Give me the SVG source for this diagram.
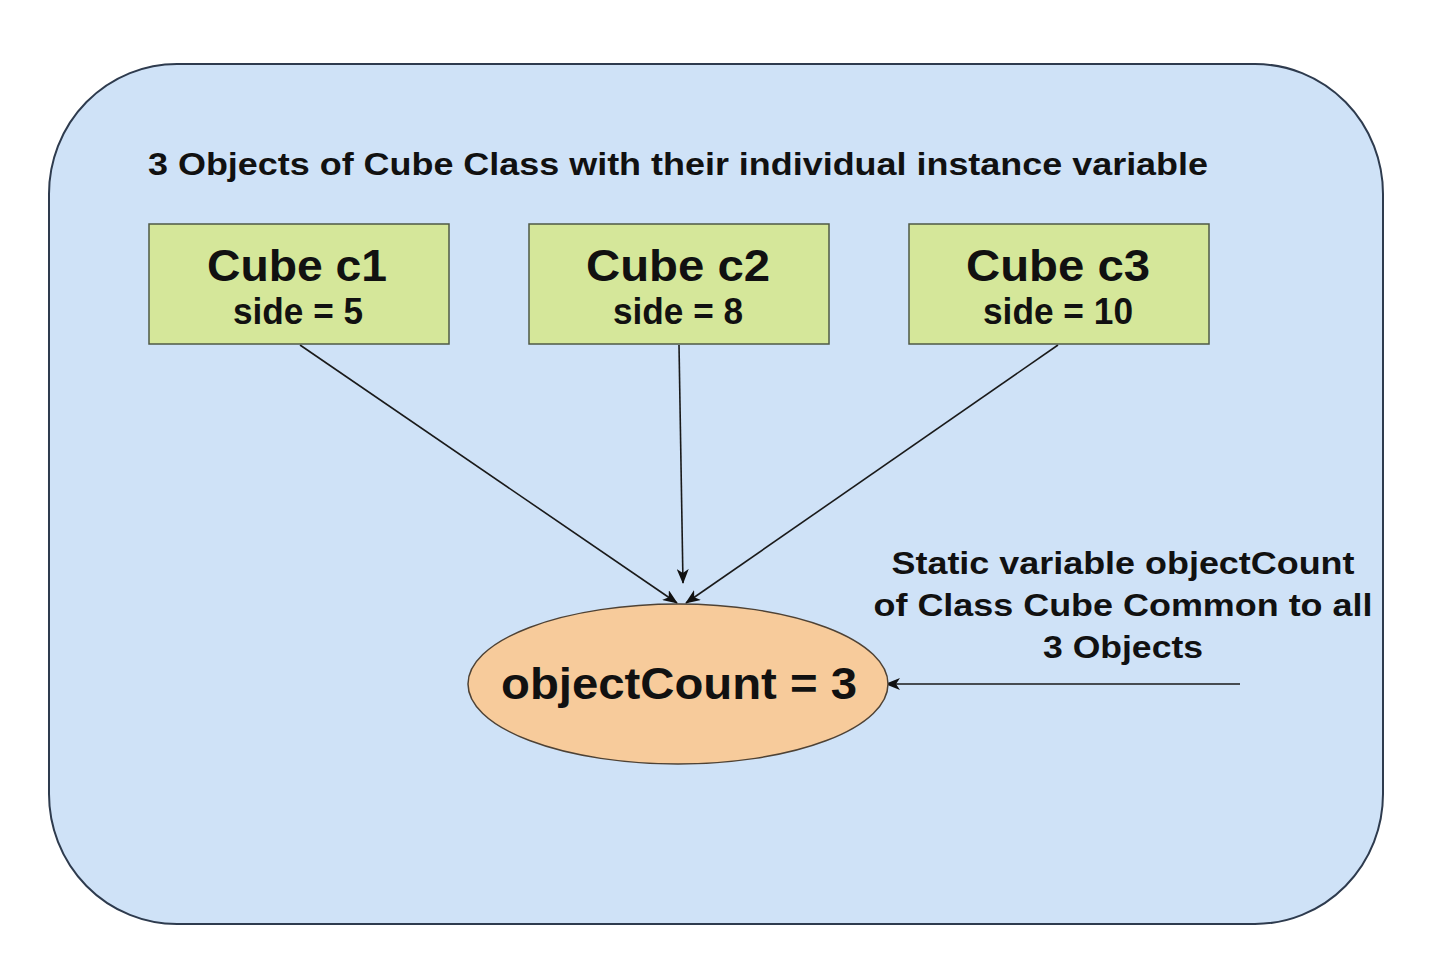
<svg xmlns="http://www.w3.org/2000/svg" width="1430" height="968" viewBox="0 0 1430 968">
  <style>
    text { font-family: "Liberation Sans", Arial, Helvetica, sans-serif; font-weight: bold; fill: #111111; }
    .box { fill: #d5e79a; stroke: #4f5a45; stroke-width: 1.5; }
    .title { font-size: 31px; }
    .big { font-size: 44px; text-anchor: middle; }
    .sub { font-size: 36px; text-anchor: middle; }
    .note { font-size: 31px; text-anchor: middle; }
    .edge { stroke: #1a1a1a; stroke-width: 1.6; fill: none; marker-end: url(#arrow); }
  </style>
  <defs>
    <marker id="arrow" viewBox="0 0 15 12" refX="14" refY="6" markerWidth="15" markerHeight="12" markerUnits="userSpaceOnUse" orient="auto">
      <path d="M0,0 L15,6 L0,12 L4,6 Z" fill="#111111"/>
    </marker>
  </defs>
  <rect width="1430" height="968" fill="#ffffff"/>
  <g id="container">
    <rect x="49" y="64" width="1334" height="860" rx="128" ry="130" fill="#cfe2f7" stroke="#2e3b4e" stroke-width="2"/>
    <text class="title" x="148" y="175" textLength="1060" lengthAdjust="spacingAndGlyphs">3 Objects of Cube Class with their individual instance variable</text>
  </g>
  <g id="connectors">
    <line class="edge" x1="300" y1="345" x2="677" y2="603"/>
    <line class="edge" x1="679" y1="345" x2="683" y2="583"/>
    <line class="edge" x1="1058" y1="345" x2="686" y2="603"/>
    <line class="edge" x1="1240" y1="684" x2="886" y2="684"/>
  </g>
  <g id="c1">
    <rect class="box" x="149" y="224" width="300" height="120"/>
    <text class="big" x="297" y="281" textLength="180" lengthAdjust="spacingAndGlyphs">Cube c1</text>
    <text class="sub" x="298" y="324" textLength="130" lengthAdjust="spacingAndGlyphs">side = 5</text>
  </g>
  <g id="c2">
    <rect class="box" x="529" y="224" width="300" height="120"/>
    <text class="big" x="678" y="281" textLength="184" lengthAdjust="spacingAndGlyphs">Cube c2</text>
    <text class="sub" x="678" y="324" textLength="130" lengthAdjust="spacingAndGlyphs">side = 8</text>
  </g>
  <g id="c3">
    <rect class="box" x="909" y="224" width="300" height="120"/>
    <text class="big" x="1058" y="281" textLength="184" lengthAdjust="spacingAndGlyphs">Cube c3</text>
    <text class="sub" x="1058" y="324" textLength="150" lengthAdjust="spacingAndGlyphs">side = 10</text>
  </g>
  <g id="objectCount">
    <ellipse cx="678" cy="684" rx="210" ry="80" fill="#f7cb9b" stroke="#4e4235" stroke-width="1.5"/>
    <text class="big" x="679" y="699" textLength="356" lengthAdjust="spacingAndGlyphs">objectCount = 3</text>
  </g>
  <g id="note">
    <text class="note" x="1123" y="574" textLength="463" lengthAdjust="spacingAndGlyphs">Static variable objectCount</text>
    <text class="note" x="1123" y="616" textLength="499" lengthAdjust="spacingAndGlyphs">of Class Cube Common to all</text>
    <text class="note" x="1123" y="658" textLength="160" lengthAdjust="spacingAndGlyphs">3 Objects</text>
  </g>
</svg>
